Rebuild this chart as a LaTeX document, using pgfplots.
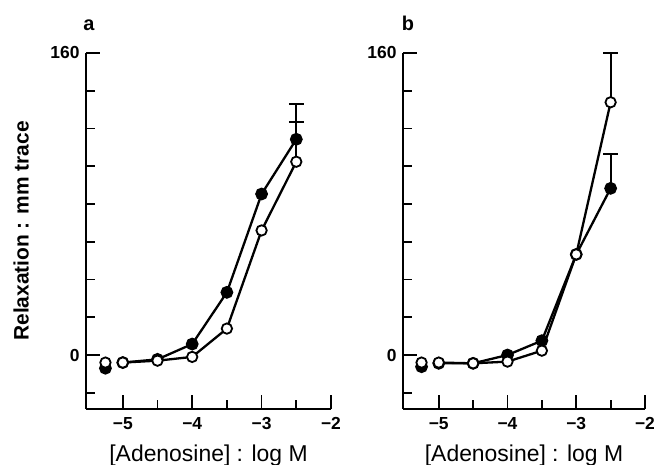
\documentclass[border=0pt]{standalone}
\usepackage{pgfplots}
\pgfplotsset{compat=1.18}
\usepackage{fontspec}
\setmainfont{Liberation Sans}

% common look of both panels
\pgfplotsset{
  panel/.style={
    scale only axis,
    height=356bp,
    ymin=-28.6, ymax=160,
    xmax=-2,
    axis x line*=bottom,
    axis y line*=left,
    axis line style={line width=1.9bp},
    tick align=inside,
    xtick={-5,-4,-3,-2},
    xticklabels={−5,−4,−3,−2},
    minor xtick={-4.5,-3.5,-2.5},
    ytick={0,160},
    yticklabels={0,160},
    minor ytick={-20,20,40,60,80,100,120,140},
    major tick length=14bp,
    minor tick length=9bp,
    every tick/.style={black, line width=1.8bp},
    tick label style={font=\fontsize{17.5}{20}\selectfont\bfseries},
    xticklabel style={yshift=-5bp},
    yticklabel style={xshift=-3bp},
    xlabel={[Adenosine] : log M},
    xlabel style={font=\fontsize{23}{26}\selectfont, at={(axis description cs:0.5,-0.148)}, anchor=base},
    clip=false,
  },
  filled/.style={black, line width=2.3bp, mark=*, mark size=5.6bp, mark options={fill=black, line width=1.6bp}},
  open/.style={black, line width=2.3bp, mark=*, mark size=5.2bp, mark options={fill=white, line width=1.8bp}},
  ebar/.style={black, line width=1.9bp, mark=none, forget plot,
    error bars/.cd, y dir=plus, y explicit,
    error bar style={line width=1.9bp},
    error mark options={rotate=90, mark size=7.5bp, line width=1.9bp}},
}

\begin{document}
\begin{tikzpicture}
\useasboundingbox (0,0) rectangle (656bp,465bp);

% panel a
\begin{axis}[panel, at={(86bp,56bp)}, anchor=south west,
  width=245bp, xmin=-5.53,
  ylabel={Relaxation : mm trace},
  ylabel style={font=\fontsize{21}{24}\selectfont\bfseries, at={(axis description cs:-0.265,0.5)}, anchor=center},
]
\addplot[ebar] coordinates {(-2.5,114.3) +- (0,18.7)};
\addplot[ebar] coordinates {(-2.5,102.4) +- (0,21.2)};
\addplot[filled, only marks] coordinates {(-5.25,-7)};
\addplot[open, only marks] coordinates {(-5.25,-4)};
\addplot[filled] coordinates {
  (-5,-4) (-4.5,-2.3) (-4,5.8) (-3.5,33.2) (-3,85.3) (-2.5,114.3)
};
\addplot[open] coordinates {
  (-5,-4) (-4.5,-3) (-4,-1) (-3.5,14) (-3,66) (-2.5,102.4)
};
\node[font=\fontsize{20}{22}\selectfont\bfseries, anchor=base west, inner sep=0]
  at (axis description cs:-0.012,1.062) {a};
\end{axis}

% panel b
\begin{axis}[panel, at={(403bp,56bp)}, anchor=south west,
  width=242bp, xmin=-5.52,
]
\addplot[ebar] coordinates {(-2.5,133.9) +- (0,26.1)};
\addplot[ebar] coordinates {(-2.5,88.3) +- (0,18.2)};
\addplot[filled, only marks] coordinates {(-5.25,-6.2)};
\addplot[open, only marks] coordinates {(-5.25,-4)};
\addplot[filled] coordinates {
  (-5,-4.4) (-4.5,-4.4) (-4,0) (-3.5,7.6) (-3,53.3) (-2.5,88.3)
};
\addplot[open] coordinates {
  (-5,-4) (-4.5,-4.4) (-4,-3.5) (-3.5,2.3) (-3,53.3) (-2.5,133.9)
};
\node[font=\fontsize{20}{22}\selectfont\bfseries, anchor=base west, inner sep=0]
  at (axis description cs:-0.006,1.062) {b};
\end{axis}
\end{tikzpicture}
\end{document}
